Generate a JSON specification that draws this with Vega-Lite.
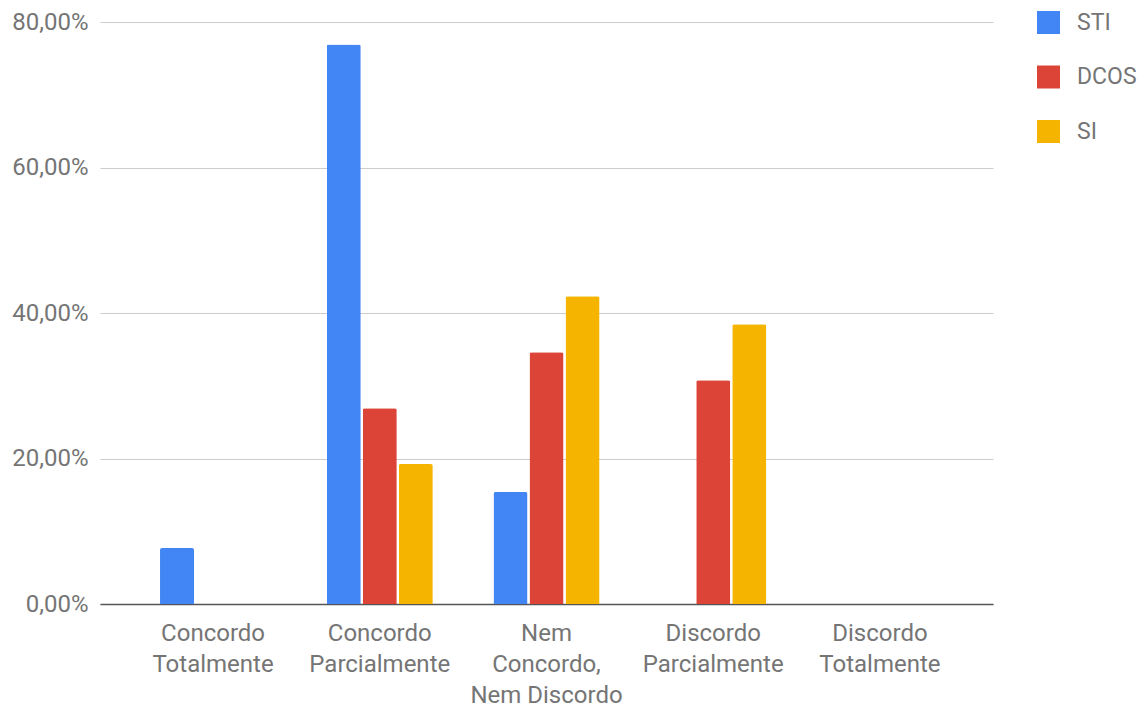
{
  "$schema": "https://vega.github.io/schema/vega-lite/v6.json",
  "autosize": {"type": "none"},
  "width": 893,
  "height": 582,
  "padding": {"left": 100, "top": 22, "right": 155, "bottom": 104},
  "background": "white",
  "config": {
    "view": {"stroke": null},
    "font": "Roboto",
    "axis": {"labelFont": "Roboto", "labelColor": "#757575", "labelFontSize": 24},
    "legend": {"labelFont": "Roboto", "labelColor": "#757575", "labelFontSize": 23}
  },
  "data": {
    "values": [
      {"categoria": "Concordo Totalmente", "grupo": "STI", "pct": 7.69},
      {"categoria": "Concordo Parcialmente", "grupo": "STI", "pct": 76.92},
      {"categoria": "Concordo Parcialmente", "grupo": "DCOS", "pct": 26.92},
      {"categoria": "Concordo Parcialmente", "grupo": "SI", "pct": 19.23},
      {"categoria": "Nem Concordo, Nem Discordo", "grupo": "STI", "pct": 15.38},
      {"categoria": "Nem Concordo, Nem Discordo", "grupo": "DCOS", "pct": 34.62},
      {"categoria": "Nem Concordo, Nem Discordo", "grupo": "SI", "pct": 42.31},
      {"categoria": "Discordo Parcialmente", "grupo": "DCOS", "pct": 30.77},
      {"categoria": "Discordo Parcialmente", "grupo": "SI", "pct": 38.46}
    ]
  },
  "mark": {"type": "bar", "cornerRadiusTopLeft": 2, "cornerRadiusTopRight": 2},
  "encoding": {
    "x": {
      "field": "categoria",
      "type": "nominal",
      "sort": null,
      "scale": {
        "domain": ["Concordo Totalmente", "Concordo Parcialmente", "Nem Concordo, Nem Discordo", "Discordo Parcialmente", "Discordo Totalmente"],
        "paddingInner": 0.364,
        "paddingOuter": 0.36
      },
      "axis": {
        "title": null,
        "labelAngle": 0,
        "ticks": false,
        "domain": true,
        "domainColor": "#555555",
        "domainWidth": 1.5,
        "labelPadding": 29,
        "labelLineHeight": 31,
        "labelBaseline": "middle",
        "labelExpr": "datum.value == 'Nem Concordo, Nem Discordo' ? ['Nem', 'Concordo,', 'Nem Discordo'] : split(datum.value, ' ')"
      }
    },
    "xOffset": {
      "field": "grupo",
      "type": "nominal",
      "scale": {"domain": ["STI", "DCOS", "SI"], "paddingInner": 0.056, "paddingOuter": 0}
    },
    "y": {
      "field": "pct",
      "type": "quantitative",
      "scale": {"domain": [0, 80], "nice": false},
      "axis": {
        "title": null,
        "values": [0, 20, 40, 60, 80],
        "ticks": false,
        "domain": false,
        "gridColor": "#cccccc",
        "gridWidth": 1,
        "labelPadding": 12,
        "labelExpr": "replace(format(datum.value, '.2f'), '.', ',') + '%'"
      }
    },
    "color": {
      "field": "grupo",
      "type": "nominal",
      "scale": {"domain": ["STI", "DCOS", "SI"], "range": ["#4285F4", "#DB4437", "#F4B400"]},
      "legend": {
        "title": null,
        "orient": "none",
        "legendX": 937,
        "legendY": -11,
        "symbolType": "square",
        "symbolSize": 529,
        "symbolStrokeWidth": 0,
        "symbolOpacity": 1,
        "labelOffset": 17,
        "rowPadding": 30.5
      }
    }
  }
}
